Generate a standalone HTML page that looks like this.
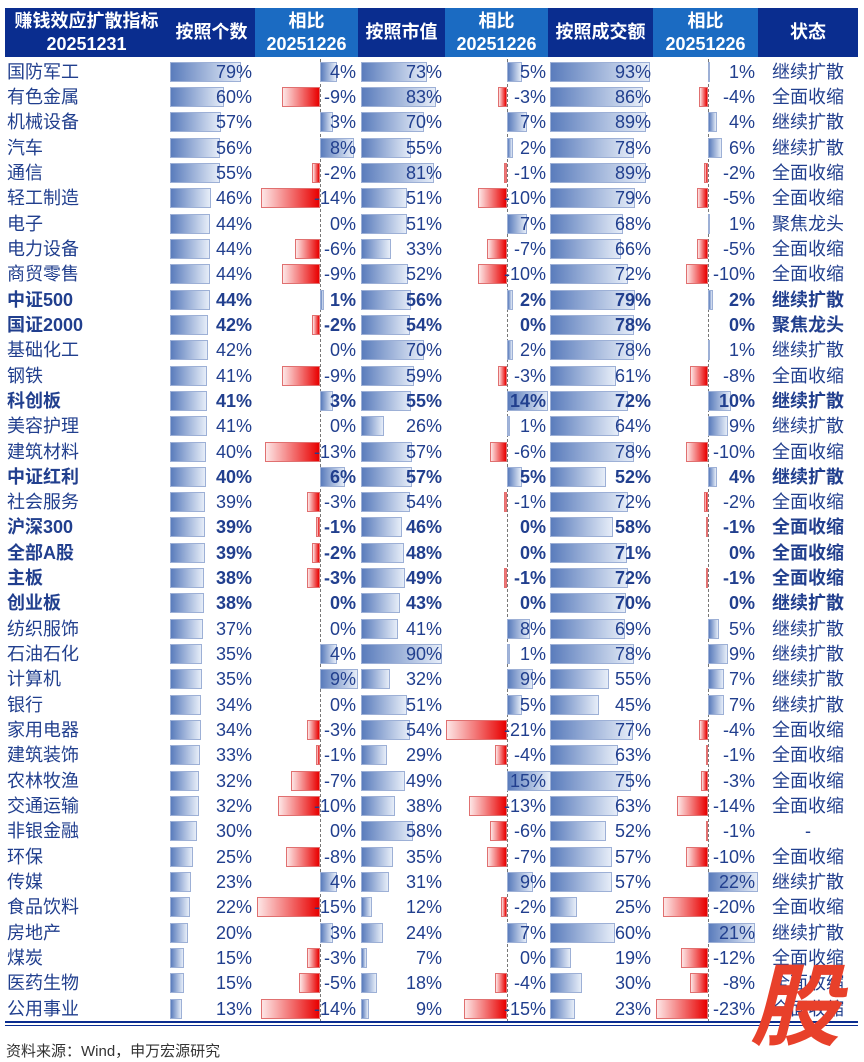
<!DOCTYPE html>
<html><head><meta charset="utf-8"><style>
body{margin:0;width:864px;height:1062px;background:#fff;position:relative;overflow:hidden;font-family:"Liberation Sans","Noto Sans CJK SC",sans-serif;color:#213f8e}
.h{position:absolute;top:8px;height:49px;color:#fff;font-weight:bold;font-size:18px;line-height:23px;display:flex;align-items:center;justify-content:center;text-align:center}
.dk{background:#0a2d8f}.lt{background:#1b6bc2}
.r{position:absolute;left:0;width:864px;height:25px;font-size:18px}
.t{position:absolute;top:0;line-height:25px;white-space:nowrap}
.nm{left:7px}
.t1{right:612px}.t2{right:508px}.t3{right:422px}.t4{right:318px}.t5{right:213px}.t6{right:109px}
.st{left:758px;width:100px;text-align:center}
.bold .t{font-weight:bold}
.a{position:absolute;top:2px;height:20px;box-sizing:border-box;border:1px solid #9db0d6;background:linear-gradient(90deg,#5a7cbc,#e6edf8)}
.a1{left:170px;width:calc(var(--v)*0.9px)}
.a2{left:361px;width:calc(var(--v)*0.9px)}
.a3{left:550px;width:calc(var(--v)*1.08px)}
.p1,.p2,.p3{width:calc(var(--v)*var(--s))}
.n1,.n2,.n3{width:calc(var(--v)*var(--s));border:1px solid #e07070;background:linear-gradient(90deg,#fde6e6,#e80000)}
.p1{left:320px;--s:4.2px}.n1{right:544px;left:auto;--s:4.2px}
.p2{left:507px;--s:2.9px}.n2{right:357px;left:auto;--s:2.9px}
.p3{left:708px;--s:2.25px}.n3{right:156px;left:auto;--s:2.25px}
.ax{position:absolute;top:59px;height:963px;border-left:1px dashed #777}
</style></head><body>
<div class="h dk" style="left:5px;width:163px">赚钱效应扩散指标<br>20251231</div>
<div class="h dk" style="left:168px;width:87px">按照个数</div>
<div class="h lt" style="left:255px;width:103px">相比<br>20251226</div>
<div class="h dk" style="left:358px;width:87px">按照市值</div>
<div class="h lt" style="left:445px;width:103px">相比<br>20251226</div>
<div class="h dk" style="left:548px;width:105px">按照成交额</div>
<div class="h lt" style="left:653px;width:105px">相比<br>20251226</div>
<div class="h dk" style="left:758px;width:100px">状态</div>
<div class="ax" style="left:320px"></div><div class="ax" style="left:507px"></div><div class="ax" style="left:708px"></div>

<div class="r" style="top:59.5px"><i class="a a1" style="--v:79"></i><i class="a p1" style="--v:4"></i><i class="a a2" style="--v:73"></i><i class="a p2" style="--v:5"></i><i class="a a3" style="--v:93"></i><i class="a p3" style="--v:1"></i><span class="t nm">国防军工</span><span class="t t1">79%</span><span class="t t2">4%</span><span class="t t3">73%</span><span class="t t4">5%</span><span class="t t5">93%</span><span class="t t6">1%</span><span class="t st">继续扩散</span></div>
<div class="r" style="top:84.8px"><i class="a a1" style="--v:60"></i><i class="a n1" style="--v:9"></i><i class="a a2" style="--v:83"></i><i class="a n2" style="--v:3"></i><i class="a a3" style="--v:86"></i><i class="a n3" style="--v:4"></i><span class="t nm">有色金属</span><span class="t t1">60%</span><span class="t t2">-9%</span><span class="t t3">83%</span><span class="t t4">-3%</span><span class="t t5">86%</span><span class="t t6">-4%</span><span class="t st">全面收缩</span></div>
<div class="r" style="top:110.2px"><i class="a a1" style="--v:57"></i><i class="a p1" style="--v:3"></i><i class="a a2" style="--v:70"></i><i class="a p2" style="--v:7"></i><i class="a a3" style="--v:89"></i><i class="a p3" style="--v:4"></i><span class="t nm">机械设备</span><span class="t t1">57%</span><span class="t t2">3%</span><span class="t t3">70%</span><span class="t t4">7%</span><span class="t t5">89%</span><span class="t t6">4%</span><span class="t st">继续扩散</span></div>
<div class="r" style="top:135.5px"><i class="a a1" style="--v:56"></i><i class="a p1" style="--v:8"></i><i class="a a2" style="--v:55"></i><i class="a p2" style="--v:2"></i><i class="a a3" style="--v:78"></i><i class="a p3" style="--v:6"></i><span class="t nm">汽车</span><span class="t t1">56%</span><span class="t t2">8%</span><span class="t t3">55%</span><span class="t t4">2%</span><span class="t t5">78%</span><span class="t t6">6%</span><span class="t st">继续扩散</span></div>
<div class="r" style="top:160.8px"><i class="a a1" style="--v:55"></i><i class="a n1" style="--v:2"></i><i class="a a2" style="--v:81"></i><i class="a n2" style="--v:1"></i><i class="a a3" style="--v:89"></i><i class="a n3" style="--v:2"></i><span class="t nm">通信</span><span class="t t1">55%</span><span class="t t2">-2%</span><span class="t t3">81%</span><span class="t t4">-1%</span><span class="t t5">89%</span><span class="t t6">-2%</span><span class="t st">全面收缩</span></div>
<div class="r" style="top:186.2px"><i class="a a1" style="--v:46"></i><i class="a n1" style="--v:14"></i><i class="a a2" style="--v:51"></i><i class="a n2" style="--v:10"></i><i class="a a3" style="--v:79"></i><i class="a n3" style="--v:5"></i><span class="t nm">轻工制造</span><span class="t t1">46%</span><span class="t t2">-14%</span><span class="t t3">51%</span><span class="t t4">-10%</span><span class="t t5">79%</span><span class="t t6">-5%</span><span class="t st">全面收缩</span></div>
<div class="r" style="top:211.5px"><i class="a a1" style="--v:44"></i><i class="a a2" style="--v:51"></i><i class="a p2" style="--v:7"></i><i class="a a3" style="--v:68"></i><i class="a p3" style="--v:1"></i><span class="t nm">电子</span><span class="t t1">44%</span><span class="t t2">0%</span><span class="t t3">51%</span><span class="t t4">7%</span><span class="t t5">68%</span><span class="t t6">1%</span><span class="t st">聚焦龙头</span></div>
<div class="r" style="top:236.8px"><i class="a a1" style="--v:44"></i><i class="a n1" style="--v:6"></i><i class="a a2" style="--v:33"></i><i class="a n2" style="--v:7"></i><i class="a a3" style="--v:66"></i><i class="a n3" style="--v:5"></i><span class="t nm">电力设备</span><span class="t t1">44%</span><span class="t t2">-6%</span><span class="t t3">33%</span><span class="t t4">-7%</span><span class="t t5">66%</span><span class="t t6">-5%</span><span class="t st">全面收缩</span></div>
<div class="r" style="top:262.1px"><i class="a a1" style="--v:44"></i><i class="a n1" style="--v:9"></i><i class="a a2" style="--v:52"></i><i class="a n2" style="--v:10"></i><i class="a a3" style="--v:72"></i><i class="a n3" style="--v:10"></i><span class="t nm">商贸零售</span><span class="t t1">44%</span><span class="t t2">-9%</span><span class="t t3">52%</span><span class="t t4">-10%</span><span class="t t5">72%</span><span class="t t6">-10%</span><span class="t st">全面收缩</span></div>
<div class="r bold" style="top:287.5px"><i class="a a1" style="--v:44"></i><i class="a p1" style="--v:1"></i><i class="a a2" style="--v:56"></i><i class="a p2" style="--v:2"></i><i class="a a3" style="--v:79"></i><i class="a p3" style="--v:2"></i><span class="t nm">中证500</span><span class="t t1">44%</span><span class="t t2">1%</span><span class="t t3">56%</span><span class="t t4">2%</span><span class="t t5">79%</span><span class="t t6">2%</span><span class="t st">继续扩散</span></div>
<div class="r bold" style="top:312.8px"><i class="a a1" style="--v:42"></i><i class="a n1" style="--v:2"></i><i class="a a2" style="--v:54"></i><i class="a a3" style="--v:78"></i><span class="t nm">国证2000</span><span class="t t1">42%</span><span class="t t2">-2%</span><span class="t t3">54%</span><span class="t t4">0%</span><span class="t t5">78%</span><span class="t t6">0%</span><span class="t st">聚焦龙头</span></div>
<div class="r" style="top:338.1px"><i class="a a1" style="--v:42"></i><i class="a a2" style="--v:70"></i><i class="a p2" style="--v:2"></i><i class="a a3" style="--v:78"></i><i class="a p3" style="--v:1"></i><span class="t nm">基础化工</span><span class="t t1">42%</span><span class="t t2">0%</span><span class="t t3">70%</span><span class="t t4">2%</span><span class="t t5">78%</span><span class="t t6">1%</span><span class="t st">继续扩散</span></div>
<div class="r" style="top:363.5px"><i class="a a1" style="--v:41"></i><i class="a n1" style="--v:9"></i><i class="a a2" style="--v:59"></i><i class="a n2" style="--v:3"></i><i class="a a3" style="--v:61"></i><i class="a n3" style="--v:8"></i><span class="t nm">钢铁</span><span class="t t1">41%</span><span class="t t2">-9%</span><span class="t t3">59%</span><span class="t t4">-3%</span><span class="t t5">61%</span><span class="t t6">-8%</span><span class="t st">全面收缩</span></div>
<div class="r bold" style="top:388.8px"><i class="a a1" style="--v:41"></i><i class="a p1" style="--v:3"></i><i class="a a2" style="--v:55"></i><i class="a p2" style="--v:14"></i><i class="a a3" style="--v:72"></i><i class="a p3" style="--v:10"></i><span class="t nm">科创板</span><span class="t t1">41%</span><span class="t t2">3%</span><span class="t t3">55%</span><span class="t t4">14%</span><span class="t t5">72%</span><span class="t t6">10%</span><span class="t st">继续扩散</span></div>
<div class="r" style="top:414.1px"><i class="a a1" style="--v:41"></i><i class="a a2" style="--v:26"></i><i class="a p2" style="--v:1"></i><i class="a a3" style="--v:64"></i><i class="a p3" style="--v:9"></i><span class="t nm">美容护理</span><span class="t t1">41%</span><span class="t t2">0%</span><span class="t t3">26%</span><span class="t t4">1%</span><span class="t t5">64%</span><span class="t t6">9%</span><span class="t st">继续扩散</span></div>
<div class="r" style="top:439.5px"><i class="a a1" style="--v:40"></i><i class="a n1" style="--v:13"></i><i class="a a2" style="--v:57"></i><i class="a n2" style="--v:6"></i><i class="a a3" style="--v:78"></i><i class="a n3" style="--v:10"></i><span class="t nm">建筑材料</span><span class="t t1">40%</span><span class="t t2">-13%</span><span class="t t3">57%</span><span class="t t4">-6%</span><span class="t t5">78%</span><span class="t t6">-10%</span><span class="t st">全面收缩</span></div>
<div class="r bold" style="top:464.8px"><i class="a a1" style="--v:40"></i><i class="a p1" style="--v:6"></i><i class="a a2" style="--v:57"></i><i class="a p2" style="--v:5"></i><i class="a a3" style="--v:52"></i><i class="a p3" style="--v:4"></i><span class="t nm">中证红利</span><span class="t t1">40%</span><span class="t t2">6%</span><span class="t t3">57%</span><span class="t t4">5%</span><span class="t t5">52%</span><span class="t t6">4%</span><span class="t st">继续扩散</span></div>
<div class="r" style="top:490.1px"><i class="a a1" style="--v:39"></i><i class="a n1" style="--v:3"></i><i class="a a2" style="--v:54"></i><i class="a n2" style="--v:1"></i><i class="a a3" style="--v:72"></i><i class="a n3" style="--v:2"></i><span class="t nm">社会服务</span><span class="t t1">39%</span><span class="t t2">-3%</span><span class="t t3">54%</span><span class="t t4">-1%</span><span class="t t5">72%</span><span class="t t6">-2%</span><span class="t st">全面收缩</span></div>
<div class="r bold" style="top:515.4px"><i class="a a1" style="--v:39"></i><i class="a n1" style="--v:1"></i><i class="a a2" style="--v:46"></i><i class="a a3" style="--v:58"></i><i class="a n3" style="--v:1"></i><span class="t nm">沪深300</span><span class="t t1">39%</span><span class="t t2">-1%</span><span class="t t3">46%</span><span class="t t4">0%</span><span class="t t5">58%</span><span class="t t6">-1%</span><span class="t st">全面收缩</span></div>
<div class="r bold" style="top:540.8px"><i class="a a1" style="--v:39"></i><i class="a n1" style="--v:2"></i><i class="a a2" style="--v:48"></i><i class="a a3" style="--v:71"></i><span class="t nm">全部A股</span><span class="t t1">39%</span><span class="t t2">-2%</span><span class="t t3">48%</span><span class="t t4">0%</span><span class="t t5">71%</span><span class="t t6">0%</span><span class="t st">全面收缩</span></div>
<div class="r bold" style="top:566.1px"><i class="a a1" style="--v:38"></i><i class="a n1" style="--v:3"></i><i class="a a2" style="--v:49"></i><i class="a n2" style="--v:1"></i><i class="a a3" style="--v:72"></i><i class="a n3" style="--v:1"></i><span class="t nm">主板</span><span class="t t1">38%</span><span class="t t2">-3%</span><span class="t t3">49%</span><span class="t t4">-1%</span><span class="t t5">72%</span><span class="t t6">-1%</span><span class="t st">全面收缩</span></div>
<div class="r bold" style="top:591.4px"><i class="a a1" style="--v:38"></i><i class="a a2" style="--v:43"></i><i class="a a3" style="--v:70"></i><span class="t nm">创业板</span><span class="t t1">38%</span><span class="t t2">0%</span><span class="t t3">43%</span><span class="t t4">0%</span><span class="t t5">70%</span><span class="t t6">0%</span><span class="t st">继续扩散</span></div>
<div class="r" style="top:616.8px"><i class="a a1" style="--v:37"></i><i class="a a2" style="--v:41"></i><i class="a p2" style="--v:8"></i><i class="a a3" style="--v:69"></i><i class="a p3" style="--v:5"></i><span class="t nm">纺织服饰</span><span class="t t1">37%</span><span class="t t2">0%</span><span class="t t3">41%</span><span class="t t4">8%</span><span class="t t5">69%</span><span class="t t6">5%</span><span class="t st">继续扩散</span></div>
<div class="r" style="top:642.1px"><i class="a a1" style="--v:35"></i><i class="a p1" style="--v:4"></i><i class="a a2" style="--v:90"></i><i class="a p2" style="--v:1"></i><i class="a a3" style="--v:78"></i><i class="a p3" style="--v:9"></i><span class="t nm">石油石化</span><span class="t t1">35%</span><span class="t t2">4%</span><span class="t t3">90%</span><span class="t t4">1%</span><span class="t t5">78%</span><span class="t t6">9%</span><span class="t st">继续扩散</span></div>
<div class="r" style="top:667.4px"><i class="a a1" style="--v:35"></i><i class="a p1" style="--v:9"></i><i class="a a2" style="--v:32"></i><i class="a p2" style="--v:9"></i><i class="a a3" style="--v:55"></i><i class="a p3" style="--v:7"></i><span class="t nm">计算机</span><span class="t t1">35%</span><span class="t t2">9%</span><span class="t t3">32%</span><span class="t t4">9%</span><span class="t t5">55%</span><span class="t t6">7%</span><span class="t st">继续扩散</span></div>
<div class="r" style="top:692.8px"><i class="a a1" style="--v:34"></i><i class="a a2" style="--v:51"></i><i class="a p2" style="--v:5"></i><i class="a a3" style="--v:45"></i><i class="a p3" style="--v:7"></i><span class="t nm">银行</span><span class="t t1">34%</span><span class="t t2">0%</span><span class="t t3">51%</span><span class="t t4">5%</span><span class="t t5">45%</span><span class="t t6">7%</span><span class="t st">继续扩散</span></div>
<div class="r" style="top:718.1px"><i class="a a1" style="--v:34"></i><i class="a n1" style="--v:3"></i><i class="a a2" style="--v:54"></i><i class="a n2" style="--v:21"></i><i class="a a3" style="--v:77"></i><i class="a n3" style="--v:4"></i><span class="t nm">家用电器</span><span class="t t1">34%</span><span class="t t2">-3%</span><span class="t t3">54%</span><span class="t t4">-21%</span><span class="t t5">77%</span><span class="t t6">-4%</span><span class="t st">全面收缩</span></div>
<div class="r" style="top:743.4px"><i class="a a1" style="--v:33"></i><i class="a n1" style="--v:1"></i><i class="a a2" style="--v:29"></i><i class="a n2" style="--v:4"></i><i class="a a3" style="--v:63"></i><i class="a n3" style="--v:1"></i><span class="t nm">建筑装饰</span><span class="t t1">33%</span><span class="t t2">-1%</span><span class="t t3">29%</span><span class="t t4">-4%</span><span class="t t5">63%</span><span class="t t6">-1%</span><span class="t st">全面收缩</span></div>
<div class="r" style="top:768.7px"><i class="a a1" style="--v:32"></i><i class="a n1" style="--v:7"></i><i class="a a2" style="--v:49"></i><i class="a p2" style="--v:15"></i><i class="a a3" style="--v:75"></i><i class="a n3" style="--v:3"></i><span class="t nm">农林牧渔</span><span class="t t1">32%</span><span class="t t2">-7%</span><span class="t t3">49%</span><span class="t t4">15%</span><span class="t t5">75%</span><span class="t t6">-3%</span><span class="t st">全面收缩</span></div>
<div class="r" style="top:794.1px"><i class="a a1" style="--v:32"></i><i class="a n1" style="--v:10"></i><i class="a a2" style="--v:38"></i><i class="a n2" style="--v:13"></i><i class="a a3" style="--v:63"></i><i class="a n3" style="--v:14"></i><span class="t nm">交通运输</span><span class="t t1">32%</span><span class="t t2">-10%</span><span class="t t3">38%</span><span class="t t4">-13%</span><span class="t t5">63%</span><span class="t t6">-14%</span><span class="t st">全面收缩</span></div>
<div class="r" style="top:819.4px"><i class="a a1" style="--v:30"></i><i class="a a2" style="--v:58"></i><i class="a n2" style="--v:6"></i><i class="a a3" style="--v:52"></i><i class="a n3" style="--v:1"></i><span class="t nm">非银金融</span><span class="t t1">30%</span><span class="t t2">0%</span><span class="t t3">58%</span><span class="t t4">-6%</span><span class="t t5">52%</span><span class="t t6">-1%</span><span class="t st">-</span></div>
<div class="r" style="top:844.7px"><i class="a a1" style="--v:25"></i><i class="a n1" style="--v:8"></i><i class="a a2" style="--v:35"></i><i class="a n2" style="--v:7"></i><i class="a a3" style="--v:57"></i><i class="a n3" style="--v:10"></i><span class="t nm">环保</span><span class="t t1">25%</span><span class="t t2">-8%</span><span class="t t3">35%</span><span class="t t4">-7%</span><span class="t t5">57%</span><span class="t t6">-10%</span><span class="t st">全面收缩</span></div>
<div class="r" style="top:870.1px"><i class="a a1" style="--v:23"></i><i class="a p1" style="--v:4"></i><i class="a a2" style="--v:31"></i><i class="a p2" style="--v:9"></i><i class="a a3" style="--v:57"></i><i class="a p3" style="--v:22"></i><span class="t nm">传媒</span><span class="t t1">23%</span><span class="t t2">4%</span><span class="t t3">31%</span><span class="t t4">9%</span><span class="t t5">57%</span><span class="t t6">22%</span><span class="t st">继续扩散</span></div>
<div class="r" style="top:895.4px"><i class="a a1" style="--v:22"></i><i class="a n1" style="--v:15"></i><i class="a a2" style="--v:12"></i><i class="a n2" style="--v:2"></i><i class="a a3" style="--v:25"></i><i class="a n3" style="--v:20"></i><span class="t nm">食品饮料</span><span class="t t1">22%</span><span class="t t2">-15%</span><span class="t t3">12%</span><span class="t t4">-2%</span><span class="t t5">25%</span><span class="t t6">-20%</span><span class="t st">全面收缩</span></div>
<div class="r" style="top:920.7px"><i class="a a1" style="--v:20"></i><i class="a p1" style="--v:3"></i><i class="a a2" style="--v:24"></i><i class="a p2" style="--v:7"></i><i class="a a3" style="--v:60"></i><i class="a p3" style="--v:21"></i><span class="t nm">房地产</span><span class="t t1">20%</span><span class="t t2">3%</span><span class="t t3">24%</span><span class="t t4">7%</span><span class="t t5">60%</span><span class="t t6">21%</span><span class="t st">继续扩散</span></div>
<div class="r" style="top:946.1px"><i class="a a1" style="--v:15"></i><i class="a n1" style="--v:3"></i><i class="a a2" style="--v:7"></i><i class="a a3" style="--v:19"></i><i class="a n3" style="--v:12"></i><span class="t nm">煤炭</span><span class="t t1">15%</span><span class="t t2">-3%</span><span class="t t3">7%</span><span class="t t4">0%</span><span class="t t5">19%</span><span class="t t6">-12%</span><span class="t st">全面收缩</span></div>
<div class="r" style="top:971.4px"><i class="a a1" style="--v:15"></i><i class="a n1" style="--v:5"></i><i class="a a2" style="--v:18"></i><i class="a n2" style="--v:4"></i><i class="a a3" style="--v:30"></i><i class="a n3" style="--v:8"></i><span class="t nm">医药生物</span><span class="t t1">15%</span><span class="t t2">-5%</span><span class="t t3">18%</span><span class="t t4">-4%</span><span class="t t5">30%</span><span class="t t6">-8%</span><span class="t st">全面收缩</span></div>
<div class="r" style="top:996.7px"><i class="a a1" style="--v:13"></i><i class="a n1" style="--v:14"></i><i class="a a2" style="--v:9"></i><i class="a n2" style="--v:15"></i><i class="a a3" style="--v:23"></i><i class="a n3" style="--v:23"></i><span class="t nm">公用事业</span><span class="t t1">13%</span><span class="t t2">-14%</span><span class="t t3">9%</span><span class="t t4">-15%</span><span class="t t5">23%</span><span class="t t6">-23%</span><span class="t st">全面收缩</span></div>

<div style="position:absolute;left:5px;top:1021px;width:853px;height:2px;background:#0a2d8f"></div>
<div style="position:absolute;left:5px;top:1025px;width:853px;height:1px;background:#0a2d8f"></div>
<div style="position:absolute;left:6px;top:1040px;font-size:15px;color:#333">资料来源：Wind，申万宏源研究</div>
<div style="position:absolute;left:750px;top:958px;font-size:90px;line-height:100px;font-weight:bold;font-style:italic;color:#e8402a">股</div>
</body></html>
